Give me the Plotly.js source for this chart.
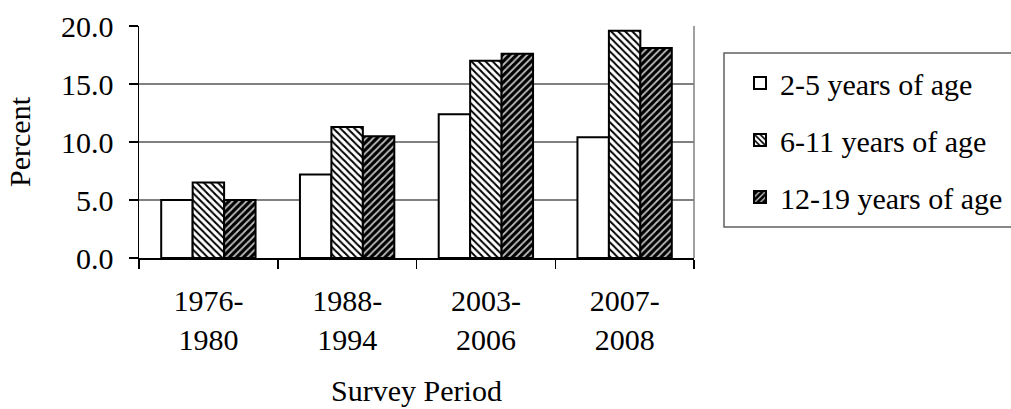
<!DOCTYPE html>
<html><head><meta charset="utf-8">
<script src="https://cdn.plot.ly/plotly-3.0.1.min.js"></script>
<style>html,body{margin:0;padding:0;background:#fff}#chart{width:1011px;height:409px}</style>
</head><body><div id="chart"></div>
<script>
const periods = ["1976-<br>1980","1988-<br>1994","2003-<br>2006","2007-<br>2008"];
const seriesNames = ["2-5 years of age","6-11 years of age","12-19 years of age"];
const age2to5 = [5.0, 7.2, 12.4, 10.4];
const age6to11 = [6.5, 11.3, 17.0, 19.6];
const age12to19 = [5.0, 10.5, 17.6, 18.1];
const yTickVals = [0, 5, 10, 15, 20];
const yTickText = ["0.0", "5.0", "10.0", "15.0", "20.0"];
const xTitle = "Survey Period";
const yTitle = "Percent";

const FONT = "Liberation Serif";
const line = {color: "#000", width: 2};

const traces = [
  {type: "bar", name: seriesNames[0], x: periods, y: age2to5, legendgroup: "a",
   marker: {color: "#fff", line: line}},
  {type: "bar", name: seriesNames[1], x: periods, y: age6to11, legendgroup: "b",
   marker: {color: "#fff", line: line,
     pattern: {shape: "\\", fgcolor: "#000", bgcolor: "#fff", size: 5, solidity: 0.4}}},
  {type: "bar", name: seriesNames[2], x: periods, y: age12to19, legendgroup: "c",
   marker: {color: "#000", line: line,
     pattern: {shape: "/", fgcolor: "#bdbdbd", bgcolor: "#000", size: 5, solidity: 0.35}}}
];

const L = 139, R = 694, T = 26, B = 258, W = 1011, H = 409;
const px2x = v => (v - L) / (R - L);
const px2y = v => (B - v) / (B - T);

const layout = {
  width: W, height: H,
  margin: {l: L, r: W - R, t: T, b: H - B, autoexpand: false},
  paper_bgcolor: "#fff", plot_bgcolor: "#fff",
  font: {family: FONT, size: 30, color: "#000"},
  barmode: "group", bargap: 0.32, bargroupgap: 0,
  showlegend: true,
  legend: {
    x: px2x(740), y: px2y(57), xanchor: "left", yanchor: "top",
    bgcolor: "rgba(0,0,0,0)", borderwidth: 0,
    font: {family: FONT, size: 30, color: "#000"},
    traceorder: "grouped", tracegroupgap: 15, itemwidth: 30
  },
  xaxis: {
    type: "category", showline: true, linecolor: "#000", linewidth: 1.5,
    ticks: "outside", tickson: "boundaries", ticklen: 9, tickcolor: "#000", tickwidth: 1.5,
    showgrid: false, zeroline: false,
    tickfont: {family: FONT, size: 30, color: "#000"},
    ticklabelstandoff: 15,
    title: {text: xTitle, font: {family: FONT, size: 30, color: "#000"}, standoff: 25},
    fixedrange: true
  },
  yaxis: {
    range: [0, 20], tickvals: yTickVals, ticktext: yTickText,
    showline: true, linecolor: "#000", linewidth: 1.5,
    ticks: "outside", ticklen: 9, tickcolor: "#000", tickwidth: 1.5,
    showgrid: true, gridcolor: "#808080", gridwidth: 1.5, zeroline: false,
    tickfont: {family: FONT, size: 30, color: "#000"},
    ticklabelstandoff: 9,
    title: {text: yTitle, font: {family: FONT, size: 30, color: "#000"}, standoff: 21},
    fixedrange: true
  },
  shapes: [
    {type: "line", xref: "paper", yref: "paper", x0: 1, x1: 1, y0: 0, y1: 1,
     line: {color: "#808080", width: 1.5}, layer: "below"},
    {type: "rect", xref: "paper", yref: "paper",
     x0: px2x(724), x1: px2x(1030), y0: px2y(227), y1: px2y(53),
     line: {color: "#606060", width: 1.5}, fillcolor: "rgba(0,0,0,0)"}
  ]
};

Plotly.newPlot("chart", traces, layout, {staticPlot: true, displayModeBar: false});
</script>
</body></html>
